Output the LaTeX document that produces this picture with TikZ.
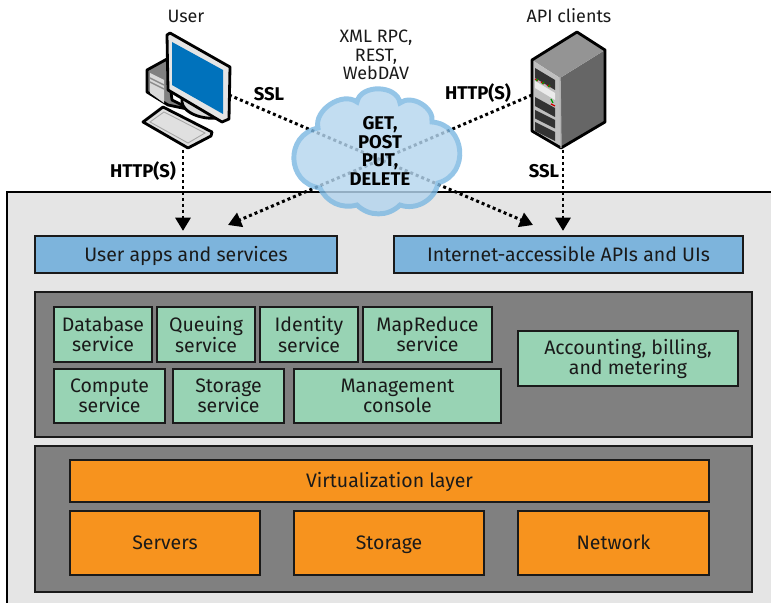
\documentclass[tikz,border=0pt]{standalone}
\usepackage{fontspec}
\setmainfont{Fira Sans}
\usetikzlibrary{arrows.meta}
\definecolor{panelgray}{HTML}{E5E5E5}
\definecolor{layergray}{HTML}{808080}
\definecolor{boxgreen}{HTML}{98D3B4}
\definecolor{boxblue}{HTML}{7DB4DC}
\definecolor{boxorange}{HTML}{F7931E}
\definecolor{cloudfill}{HTML}{B4D5EE}
\definecolor{cloudedge}{HTML}{7DB8E2}
\definecolor{screenblue}{HTML}{0072BC}
\definecolor{inkblack}{HTML}{1A1A1A}
\begin{document}
\begin{tikzpicture}[x=0.2mm, y=0.2mm]
		\tikzstyle{every node}+=[inner sep=0pt, text=inkblack, align=center, font=\fontsize{11.1}{11.4}\selectfont]
		\tikzstyle{sized}=[minimum width=#1*0.2mm]
		\tikzstyle{tall}=[minimum height=#1*0.2mm]
		\tikzstyle{layerbox}=[draw=inkblack, line width=1.4pt, fill=layergray]
		\tikzstyle{bluebox}=[draw=inkblack, line width=1.4pt, fill=boxblue, tall=37, text height=10pt, text depth=2.5pt]
		\tikzstyle{greenbox}=[draw=inkblack, line width=1.4pt, fill=boxgreen]
		\tikzstyle{orangebox}=[draw=inkblack, line width=1.4pt, fill=boxorange, text height=10pt, text depth=2.5pt]
		\tikzstyle{boldlabel}=[font=\fontsize{10.5}{10.6}\selectfont\bfseries, text=black]
		\tikzstyle{titlelabel}=[font=\fontsize{10.2}{10.5}\selectfont]
		\tikzstyle{dataflow}=[black, line width=1.7pt, dash pattern=on 1.7pt off 1.7pt, -{Triangle[length=7.5pt,width=8.5pt]}, shorten >=2.2pt]
		\tikzstyle{iconline}=[draw=black, line width=1.6pt, line join=round]
		\useasboundingbox (0,0) rectangle (771,-603);
		% panel
		\fill [panelgray] (771,-192) -- (7,-192) -- (7,-603) -- (771,-603) -- cycle;
		\draw [black, line width=1.4pt] (771,-192) -- (7,-192) -- (7,-603);
		% top row
		\node [bluebox, sized=302] (userapps) at (186,-254.5) {User apps and services};
		\node [bluebox, sized=349] (apiapps) at (568.5,-254.5) {Internet-accessible APIs and UIs};
		% services
		\node [layerbox, sized=717, tall=145] (servicelayer) at (393.5,-364.5) {};
		\node [greenbox, sized=98, tall=55] (database) at (103,-334.5) {Database\\service};
		\node [greenbox, sized=98, tall=55] (queuing) at (206,-334.5) {Queuing\\service};
		\node [greenbox, sized=98, tall=55] (identity) at (309,-334.5) {Identity\\service};
		\node [greenbox, sized=129, tall=55] (mapreduce) at (427.5,-334.5) {MapReduce\\service};
		\node [greenbox, sized=111, tall=54] (compute) at (109.5,-396) {Compute\\service};
		\node [greenbox, sized=111, tall=54] (storageservice) at (228.5,-396) {Storage\\service};
		\node [greenbox, sized=207, tall=54] (console) at (397.5,-396) {Management\\console};
		\node [greenbox, sized=220, tall=55] (accounting) at (628,-358.5) {Accounting, billing,\\and metering};
		% hardware
		\node [layerbox, sized=717, tall=146] (hardwarelayer) at (393.5,-519) {};
		\node [orangebox, sized=639, tall=42] (virtualization) at (389.5,-481) {Virtualization layer};
		\node [orangebox, sized=190, tall=64] (servers) at (165,-543) {Servers};
		\node [orangebox, sized=190, tall=64] (storage) at (389,-543) {Storage};
		\node [orangebox, sized=191, tall=64] (network) at (613.5,-543) {Network};
		% computer
		\coordinate (userbase) at (183,-150);
		\coordinate (userside) at (229,-95);
		\filldraw [iconline, fill=layergray] (147,-70) -- (167,-59) -- (172,-100) -- (192,-110) -- (168,-105) -- (147,-92) -- cycle;
		\fill [black!15] (150,-73) -- (164,-80) -- (164,-103) -- (150,-93) -- cycle;
		\draw [black!45, line width=0.8pt] (150,-78) -- (164,-85) (150,-82) -- (164,-89);
		\filldraw [iconline, fill=black!15] (183,-96) .. controls (176,-112) and (205,-122) .. (222,-117) -- (190,-98) -- cycle;
		\filldraw [iconline, fill=black!10] (167,-35) -- (170,-33) -- (230,-67) -- (229,-119) -- (222,-122) -- (168,-90) -- cycle;
		\fill [screenblue] (172,-42) -- (223,-70) -- (223,-114) -- (172,-85) -- cycle;
		\filldraw [iconline, fill=black!12] (143,-122) -- (163,-107) -- (212,-132) -- (211,-136) -- (188,-148) -- cycle;
		\draw [black!35, line width=0.5pt] (150,-122) -- (164,-112) -- (205,-133) -- (188,-143) -- cycle;
		% server
		\coordinate (apibase) at (563,-150);
		\coordinate (apiside) at (532,-95);
		\fill [black!60] (560,-78) -- (605,-50) -- (605,-122) -- (561,-148) -- cycle;
		\fill [black!42] (532,-60) -- (577,-32) -- (605,-50) -- (560,-78) -- cycle;
		\fill [black!25] (532,-60) -- (560,-78) -- (561,-148) -- (532,-131) -- cycle;
		\foreach \topl/\topr/\high in {68/80/10, 97/108/9, 110/120/8.5, 122/132/9}
			\fill [black!80] (535,-\topl) -- (555,-\topr) -- (555,-\topr-\high) -- (535,-\topl-\high) -- cycle;
		\fill [black!8] (535,-81) -- (555,-93) -- (555,-100) -- (535,-88) -- cycle;
		\draw [red!80!black, line width=0.7pt] (535,-79) -- (538,-81) (541,-82) -- (544,-84) (547,-85) -- (550,-87);
		\draw [green!60!black, line width=0.7pt] (536,-81) -- (538,-79) (542,-84) -- (544,-82) (548,-87) -- (550,-85) (551,-99) -- (553,-103);
		\draw [red!80!black, line width=0.7pt] (551,-104) -- (555,-106);
		\draw [iconline] (532,-60) -- (577,-32) -- (605,-50) -- (605,-122) -- (561,-148) -- (532,-131) -- cycle;
		\draw [black!30, line width=0.8pt] (560,-78) -- (561,-148);
		% connectors
		\coordinate (apitip) at (533,-225);
		\coordinate (usertip) at (228,-225);
		\draw [dataflow] (userbase) -- (userbase |- userapps.north);
		\draw [dataflow] (apibase) -- (apibase |- apiapps.north);
		\draw [dataflow, shorten >=0pt] (userside) -- (apitip);
		\draw [dataflow, shorten >=0pt] (apiside) -- (usertip);
		% cloud
		\begin{scope}[transparency group, opacity=0.82]
			\filldraw [draw=cloudedge, fill=cloudfill, line width=2.8pt]
				(320,-188) to [bend left=80, looseness=1.45] (318,-128) to [bend left=70] (357,-102)
				to [bend left=80, looseness=1.1] (400,-103) to [bend left=70] (432,-122)
				to [bend left=80, looseness=1.4] (438,-183) to [bend left=50] (400,-205)
				to [bend left=45] (357,-205) to [bend left=40] cycle;
		\end{scope}
		% labels
		\node [titlelabel] (usertitle) at (186,-16) {User};
		\node [titlelabel] (apititle) at (569,-16) {API clients};
		\node [titlelabel] (protocols) at (376,-55) {XML RPC,\\REST,\\WebDAV};
		\node [boldlabel] (methods) at (380,-151) {GET,\\POST\\PUT,\\DELETE};
		\node [boldlabel] (userssl) at (269,-94) {SSL};
		\node [boldlabel] (userhttp) at (143,-171) {HTTP(S)};
		\node [boldlabel] (apihttp) at (478,-93) {HTTP(S)};
		\node [boldlabel] (apissl) at (544,-171) {SSL};
	\end{tikzpicture}
\end{document}
